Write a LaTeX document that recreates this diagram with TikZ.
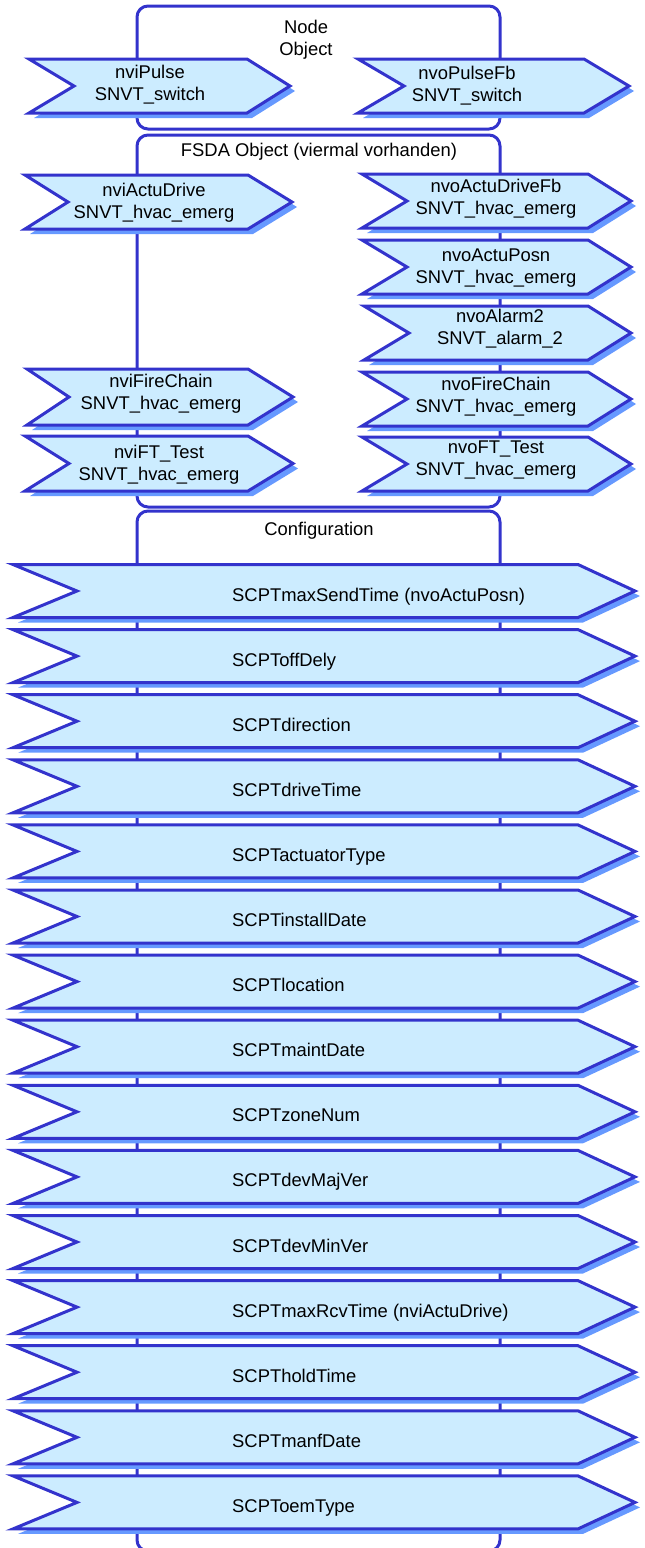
\documentclass[tikz,border=0pt]{standalone}
\usepackage{fontspec}
\setmainfont{Liberation Sans}
\definecolor{sigline}{RGB}{51,51,204}
\definecolor{sigfill}{RGB}{204,236,255}
\definecolor{sigshade}{RGB}{102,153,255}
% flag: left, notch, body end, tip, top, bottom
\newcommand{\sigflag}[6]{%
  \fill[sigshadow] (#2,#5) -- (#3,#5) -- (#4,{(#5+#6)/2}) -- (#3,#6) -- (#1,#6) -- (#2,{(#5+#6)/2}) -- cycle;
  \filldraw[sigbox] (#1,#5) -- (#3,#5) -- (#4,{(#5+#6)/2}) -- (#3,#6) -- (#1,#6) -- (#2,{(#5+#6)/2}) -- cycle;}
\begin{document}
\begin{tikzpicture}[x=1pt, y=-1pt,
  sigbox/.style={draw=sigline, fill=sigfill, line width=3pt, line join=miter},
  sigshadow/.style={fill=sigshade, shift={(5,5)}},
  objframe/.style={draw=sigline, line width=3pt, rounded corners=11pt},
  sigtext/.style={inner sep=0pt, align=center, font=\fontsize{18.4}{22}\selectfont},
  cfgtext/.style={inner sep=0pt, anchor=base west, font=\fontsize{18.4}{22}\selectfont},
  objtitle/.style={inner sep=0pt, align=center, font=\fontsize{18.4}{22}\selectfont}]

\useasboundingbox (0,0) rectangle (645,1548);

\draw[objframe] (137,6) rectangle (500,129) ; % node object
\draw[objframe] (137,135) rectangle (500,507) ; % fsda object
\draw[objframe] (137,511) rectangle (500,1551) ; % configuration

\node[objtitle] (nodeobj) at (306,39.3) {Node\\Object};
\node[objtitle, anchor=base] (fsdaobj) at (319,156) {FSDA Object (viermal vorhanden)};
\node[objtitle, anchor=base] (configobj) at (319,535) {Configuration};

\sigflag{29}{74}{247}{290}{59}{113} % nviPulse
\node[sigtext] (nviPulse) at (150,85) {nviPulse\\SNVT\_switch};
\sigflag{358}{404}{584}{629}{59}{113} % nvoPulseFb
\node[sigtext] (nvoPulseFb) at (467,85.5) {nvoPulseFb\\SNVT\_switch};

\sigflag{25}{68}{248}{292}{175}{229} % nviActuDrive
\node[sigtext] (nviActuDrive) at (154,202.5) {nviActuDrive\\SNVT\_hvac\_emerg};
\sigflag{27}{69}{248}{293}{369}{425} % nviFireChain
\node[sigtext] (nviFireChain) at (161,393.5) {nviFireChain\\SNVT\_hvac\_emerg};
\sigflag{25}{69}{248}{293}{436}{491} % nviFT_Test
\node[sigtext] (nviFTTest) at (159,464.5) {nviFT\_Test\\SNVT\_hvac\_emerg};

\sigflag{362}{407}{588}{631}{174}{228} % nvoActuDriveFb
\node[sigtext] (nvoActuDriveFb) at (496,198.5) {nvoActuDriveFb\\SNVT\_hvac\_emerg};
\sigflag{362}{407}{588}{631}{240}{294} % nvoActuPosn
\node[sigtext] (nvoActuPosn) at (496,268.5) {nvoActuPosn\\SNVT\_hvac\_emerg};
\sigflag{364}{409}{588}{631}{306}{360} % nvoAlarm2
\node[sigtext] (nvoAlarm2) at (500,328.5) {nvoAlarm2\\SNVT\_alarm\_2};
\sigflag{362}{407}{588}{631}{372}{426} % nvoFireChain
\node[sigtext] (nvoFireChain) at (496,397) {nvoFireChain\\SNVT\_hvac\_emerg};
\sigflag{362}{407}{588}{631}{437}{491} % nvoFT_Test
\node[sigtext] (nvoFTTest) at (496,460) {nvoFT\_Test\\SNVT\_hvac\_emerg};

\sigflag{13}{77}{578}{635}{564.5}{617.5} % maxSendTime
\node[cfgtext] (maxSendTime) at (232,601) {SCPTmaxSendTime (nvoActuPosn)};
\sigflag{13}{77}{578}{635}{629.6}{682.6} % offDely
\node[cfgtext] (offDely) at (232,666.1) {SCPToffDely};
\sigflag{13}{77}{578}{635}{694.7}{747.7} % direction
\node[cfgtext] (direction) at (232,731.2) {SCPTdirection};
\sigflag{13}{77}{578}{635}{759.8}{812.8} % driveTime
\node[cfgtext] (driveTime) at (232,796.3) {SCPTdriveTime};
\sigflag{13}{77}{578}{635}{824.9}{877.9} % actuatorType
\node[cfgtext] (actuatorType) at (232,861.4) {SCPTactuatorType};
\sigflag{13}{77}{578}{635}{890.0}{943.0} % installDate
\node[cfgtext] (installDate) at (232,926.5) {SCPTinstallDate};
\sigflag{13}{77}{578}{635}{955.1}{1008.1} % location
\node[cfgtext] (location) at (232,991.6) {SCPTlocation};
\sigflag{13}{77}{578}{635}{1020.2}{1073.2} % maintDate
\node[cfgtext] (maintDate) at (232,1056.7) {SCPTmaintDate};
\sigflag{13}{77}{578}{635}{1085.3}{1138.3} % zoneNum
\node[cfgtext] (zoneNum) at (232,1121.8) {SCPTzoneNum};
\sigflag{13}{77}{578}{635}{1150.4}{1203.4} % devMajVer
\node[cfgtext] (devMajVer) at (232,1186.9) {SCPTdevMajVer};
\sigflag{13}{77}{578}{635}{1215.5}{1268.5} % devMinVer
\node[cfgtext] (devMinVer) at (232,1252.0) {SCPTdevMinVer};
\sigflag{13}{77}{578}{635}{1280.6}{1333.6} % maxRcvTime
\node[cfgtext] (maxRcvTime) at (232,1317.1) {SCPTmaxRcvTime (nviActuDrive)};
\sigflag{13}{77}{578}{635}{1345.7}{1398.7} % holdTime
\node[cfgtext] (holdTime) at (232,1382.2) {SCPTholdTime};
\sigflag{13}{77}{578}{635}{1410.8}{1463.8} % manfDate
\node[cfgtext] (manfDate) at (232,1447.3) {SCPTmanfDate};
\sigflag{13}{77}{578}{635}{1475.9}{1528.9} % oemType
\node[cfgtext] (oemType) at (232,1512.4) {SCPToemType};

\end{tikzpicture}
\end{document}
